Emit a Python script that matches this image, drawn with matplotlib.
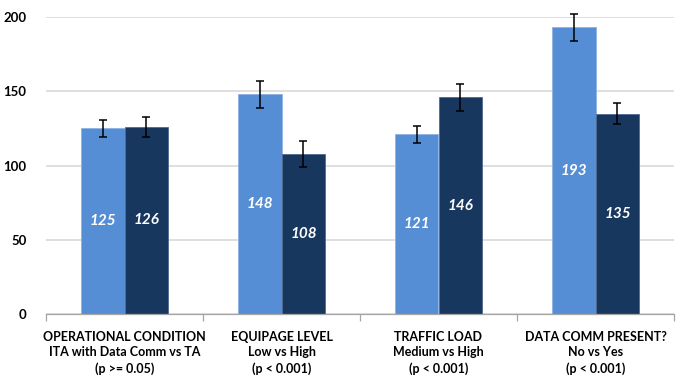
import numpy as np
import matplotlib
matplotlib.use("Agg")
import matplotlib.pyplot as plt

plt.rcParams["font.family"] = ["Lato", "DejaVu Sans"]

# ===== data =====
categories = [
    "OPERATIONAL CONDITION\nITA with Data Comm vs TA\n(p >= 0.05)",
    "EQUIPAGE LEVEL\nLow vs High\n(p < 0.001)",
    "TRAFFIC LOAD\nMedium vs High\n(p < 0.001)",
    "DATA COMM PRESENT?\nNo vs Yes\n(p < 0.001)",
]
first_values = [125, 148, 121, 193]
second_values = [126, 108, 146, 135]
first_err = [5.7, 9.0, 5.8, 9.0]
second_err = [6.7, 8.7, 9.0, 7.0]
y_ticks = [0, 50, 100, 150, 200]

LIGHT = "#558ED5"
DARK = "#17375E"

fig = plt.figure(figsize=(6.8, 3.79), dpi=100)
ax = fig.add_axes([46 / 680, 1 - 314 / 379, 628 / 680, 297 / 379])

x = np.arange(len(categories))
w = 0.28

bars1 = ax.bar(x - w / 2, first_values, w, color=LIGHT, edgecolor="#8DB3E2", linewidth=0.6, zorder=2)
bars2 = ax.bar(x + w / 2, second_values, w, color=DARK, edgecolor="#4F6A8F", linewidth=0.6, zorder=2)

ax.errorbar(x - w / 2, first_values, yerr=first_err, fmt="none", ecolor="black",
            elinewidth=1.1, capsize=3, capthick=1.1, zorder=3, clip_on=False)
ax.errorbar(x + w / 2, second_values, yerr=second_err, fmt="none", ecolor="black",
            elinewidth=1.1, capsize=3, capthick=1.1, zorder=3, clip_on=False)

# value labels in the middle of each bar
for bars, vals in ((bars1, first_values), (bars2, second_values)):
    for b, v in zip(bars, vals):
        ax.text(b.get_x() + b.get_width() / 2, v / 2, str(v), ha="center", va="center",
                color="white", fontsize=11, fontweight="bold", fontstyle="italic", zorder=4)

ax.set_xlim(-0.5, len(categories) - 0.5)
ax.set_ylim(0, 200)
ax.set_yticks(y_ticks)
ax.set_yticklabels([str(t) for t in y_ticks], fontsize=9.5, fontweight="bold")
ax.yaxis.grid(True, color="#D9D9D9", linewidth=1.2, zorder=0)
ax.set_axisbelow(True)

# category labels centered, tick marks on the boundaries
ax.set_xticks(np.arange(-0.5, len(categories)), minor=False)
ax.set_xticklabels([])
ax.tick_params(axis="x", length=5, color="#A6A6A6", width=0.9)
ax.set_xticks(x, minor=True)
ax.set_xticklabels(categories, minor=True, fontsize=9, fontweight="bold", linespacing=1.35)
ax.tick_params(axis="x", which="minor", length=0, pad=12)
ax.tick_params(axis="y", length=0, pad=14)

for s in ("top", "right", "left"):
    ax.spines[s].set_visible(False)
ax.spines["bottom"].set_color("#A6A6A6")
ax.spines["bottom"].set_linewidth(0.9)

fig.savefig("out.png", dpi=100)
